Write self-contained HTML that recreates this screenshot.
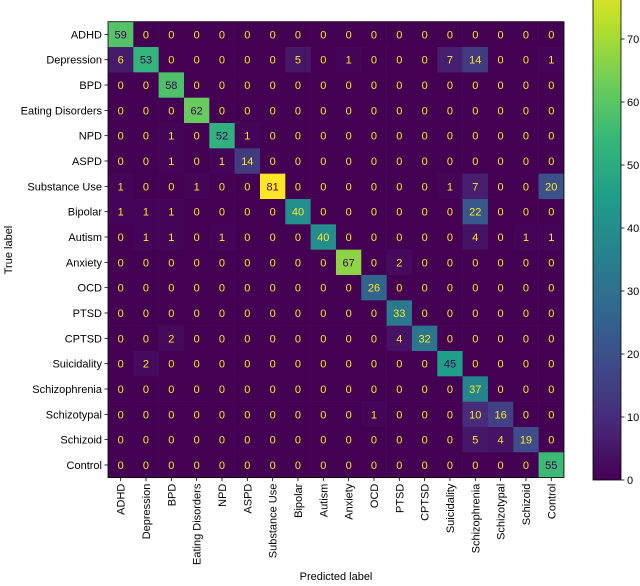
<!DOCTYPE html>
<html><head><meta charset="utf-8"><style>
body{margin:0;background:#fff;width:640px;height:581px;overflow:hidden}
svg text{font-family:"Liberation Sans","DejaVu Sans",sans-serif}
</style></head><body>
<svg id="c" width="640" height="581"></svg>
<script>
const labels=["ADHD","Depression","BPD","Eating Disorders","NPD","ASPD","Substance Use","Bipolar","Autism","Anxiety","OCD","PTSD","CPTSD","Suicidality","Schizophrenia","Schizotypal","Schizoid","Control"];
const matrix=[
[59,0,0,0,0,0,0,0,0,0,0,0,0,0,0,0,0,0],
[6,53,0,0,0,0,0,5,0,1,0,0,0,7,14,0,0,1],
[0,0,58,0,0,0,0,0,0,0,0,0,0,0,0,0,0,0],
[0,0,0,62,0,0,0,0,0,0,0,0,0,0,0,0,0,0],
[0,0,1,0,52,1,0,0,0,0,0,0,0,0,0,0,0,0],
[0,0,1,0,1,14,0,0,0,0,0,0,0,0,0,0,0,0],
[1,0,0,1,0,0,81,0,0,0,0,0,0,1,7,0,0,20],
[1,1,1,0,0,0,0,40,0,0,0,0,0,0,22,0,0,0],
[0,1,1,0,1,0,0,0,40,0,0,0,0,0,4,0,1,1],
[0,0,0,0,0,0,0,0,0,67,0,2,0,0,0,0,0,0],
[0,0,0,0,0,0,0,0,0,0,26,0,0,0,0,0,0,0],
[0,0,0,0,0,0,0,0,0,0,0,33,0,0,0,0,0,0],
[0,0,2,0,0,0,0,0,0,0,0,4,32,0,0,0,0,0],
[0,2,0,0,0,0,0,0,0,0,0,0,0,45,0,0,0,0],
[0,0,0,0,0,0,0,0,0,0,0,0,0,0,37,0,0,0],
[0,0,0,0,0,0,0,0,0,0,1,0,0,0,10,16,0,0],
[0,0,0,0,0,0,0,0,0,0,0,0,0,0,5,4,19,0],
[0,0,0,0,0,0,0,0,0,0,0,0,0,0,0,0,0,55]];
const cbTicks=[0,10,20,30,40,50,60,70];
const NS="http://www.w3.org/2000/svg";
const svg=document.getElementById('c');
const X0=108,Y0=21.7,CW=25.33,VMAX=81;
const vir=[[68,1,84],[72,40,120],[62,74,137],[49,104,142],[38,130,142],[31,158,137],[53,183,121],[109,205,89],[180,222,44],[253,231,37]];
function color(v){let t=Math.max(0,Math.min(1,v/VMAX))*9;let i=Math.min(8,Math.floor(t)),f=t-i;const a=vir[i],b=vir[i+1];return `rgb(${a.map((c,k)=>Math.round(c+(b[k]-c)*f)).join(',')})`;}
function xs(j){return X0+j*CW}
function ys(i){return Y0+i*CW}
function mk(tag,attrs,txt){const e=document.createElementNS(NS,tag);for(const k in attrs)e.setAttribute(k,attrs[k]);if(txt!==undefined)e.textContent=txt;svg.appendChild(e);return e;}
matrix.forEach((row,i)=>row.forEach((v,j)=>{
 const r=mk('rect',{x:xs(j),y:ys(i),width:CW+0.3,height:CW+0.3,fill:color(v)});
 
 
 const t=mk('text',{x:xs(j)+CW/2,y:ys(i)+CW/2+4,'text-anchor':'middle','font-size':'11',fill:v>VMAX/2?'#440154':'#fde725'},v);
 
 
}));
const fr=mk('rect',{x:X0,y:Y0,width:CW*18,height:CW*18,fill:'none',stroke:'#000','stroke-width':0.8});


labels.forEach((l,i)=>{
 mk('line',{x1:X0-3.5,x2:X0,y1:ys(i)+CW/2,y2:ys(i)+CW/2,stroke:'#000','stroke-width':0.8});
 const t=mk('text',{x:X0-6,y:ys(i)+CW/2+4,'text-anchor':'end','font-size':'11',fill:'#000'},l);
 
 
 const bx=xs(i)+CW/2,by=Y0+CW*18;
 mk('line',{x1:bx,x2:bx,y1:by,y2:by+3.5,stroke:'#000','stroke-width':0.8});
 const u=mk('text',{x:bx+4,y:by+6,'text-anchor':'end','font-size':'11',fill:'#000',transform:`rotate(-90 ${bx+4} ${by+6})`},l);
 
 
});
const yt=mk('text',{x:12,y:250,'text-anchor':'middle','font-size':'11',transform:'rotate(-90 12 250)'},'True label');


const xt=mk('text',{x:336,y:580,'text-anchor':'middle','font-size':'11'},'Predicted label');


// colorbar
const CBX=593,CBW=28,CB0=480,PER=6.3;
const defs=mk('defs',{});
const g=document.createElementNS(NS,'linearGradient');g.setAttribute('id','vg');g.setAttribute('x1','0');g.setAttribute('y1','1');g.setAttribute('x2','0');g.setAttribute('y2','0');
vir.forEach((c,k)=>{const s=document.createElementNS(NS,'stop');s.setAttribute('offset',k/9);s.setAttribute('stop-color',`rgb(${c})`);g.appendChild(s);});
defs.appendChild(g);
const cbTop=CB0-VMAX*PER;
const cb=mk('rect',{x:CBX,y:cbTop,width:CBW,height:VMAX*PER,fill:'url(#vg)',stroke:'#000','stroke-width':0.8});


cbTicks.forEach(v=>{
 const y=CB0-v*PER;
 mk('line',{x1:CBX+CBW,x2:CBX+CBW+3.5,y1:y,y2:y,stroke:'#000','stroke-width':0.8});
 const t=mk('text',{x:CBX+CBW+6,y:y+4,'font-size':'11'},v);
 
 
});
</script>
</body></html>
